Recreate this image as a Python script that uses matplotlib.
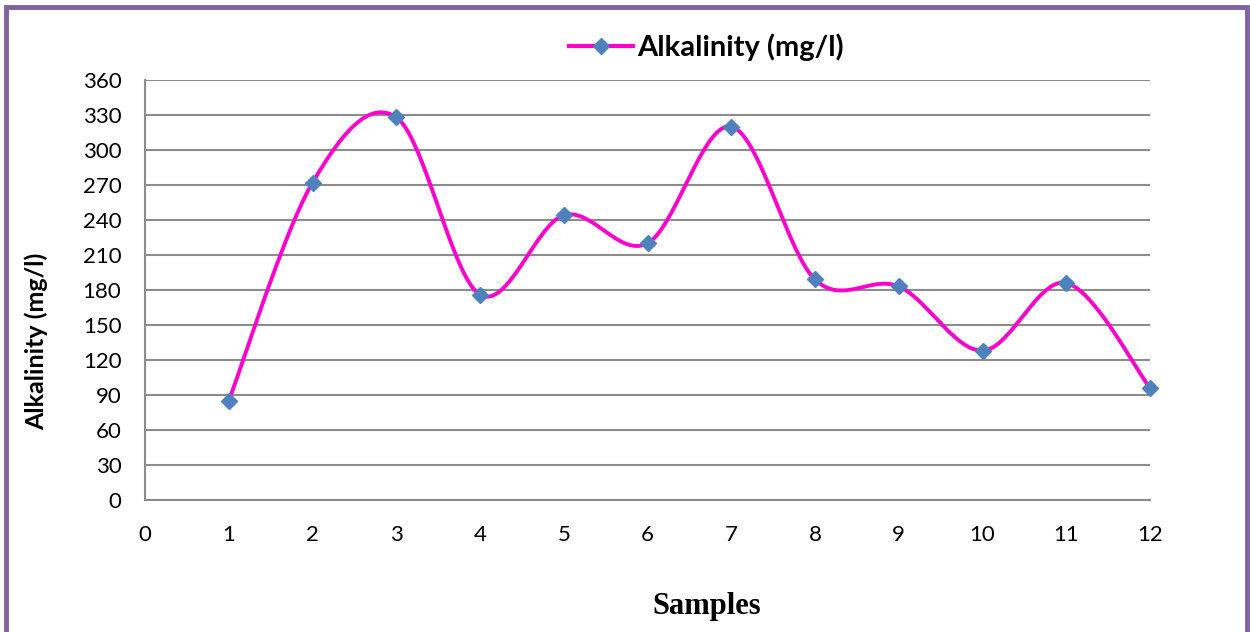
import numpy as np
import matplotlib.pyplot as plt
from matplotlib.lines import Line2D
from matplotlib.patches import Rectangle

samples = [1, 2, 3, 4, 5, 6, 7, 8, 9, 10, 11, 12]
alkalinity = [85, 272, 328, 176, 244, 220, 320, 189, 183, 128, 186, 96]
y_ticks = list(range(0, 361, 30))
x_ticks = list(range(0, 13))

LINE = "#FF00CC"
MARK = "#4F81BD"
GRID = "#8C8C8C"


def smooth(xs, ys, n=40):
    # Excel-style smoothed line: cubic bezier with control points at 1/6 of the neighbour span
    xs = np.asarray(xs, float)
    ys = np.asarray(ys, float)
    px = np.concatenate([[xs[0]], xs, [xs[-1]]])
    py = np.concatenate([[ys[0]], ys, [ys[-1]]])
    out_x, out_y = [], []
    t = np.linspace(0, 1, n)
    for i in range(1, len(px) - 2):
        p0 = np.array([px[i], py[i]])
        p3 = np.array([px[i + 1], py[i + 1]])
        c1 = p0 + (np.array([px[i + 1], py[i + 1]]) - np.array([px[i - 1], py[i - 1]])) / 6
        c2 = p3 - (np.array([px[i + 2], py[i + 2]]) - np.array([px[i], py[i]])) / 6
        b = ((1 - t) ** 3)[:, None] * p0 + (3 * (1 - t) ** 2 * t)[:, None] * c1 \
            + (3 * (1 - t) * t ** 2)[:, None] * c2 + (t ** 3)[:, None] * p3
        out_x.extend(b[:, 0])
        out_y.extend(b[:, 1])
    return out_x, out_y


plt.rcParams["font.family"] = ["Lato", "DejaVu Sans"]

fig = plt.figure(figsize=(12.5, 6.32), dpi=100)
ax = fig.add_axes([0.116, 0.2089, 0.804, 0.6646])

sx, sy = smooth(samples, alkalinity)
ax.plot(sx, sy, color=LINE, lw=2.8, zorder=3)
ax.plot(samples, alkalinity, ls="none", marker="D", ms=8.5, color=MARK, zorder=4,
        clip_on=False)

ax.set_xlim(0, 12)
ax.set_ylim(0, 360)
ax.set_xticks(x_ticks)
ax.set_yticks(y_ticks)
ax.tick_params(length=0, labelsize=16, colors="black")
ax.tick_params(axis="x", pad=18)
ax.tick_params(axis="y", pad=17)
ax.grid(axis="y", color=GRID, lw=1.5)
ax.set_axisbelow(True)
for s in ["top", "right"]:
    ax.spines[s].set_visible(False)
for s in ["left", "bottom"]:
    ax.spines[s].set_color(GRID)
    ax.spines[s].set_linewidth(1.5)

fig.text(0.0288, 0.4604, "Alkalinity (mg/l)", fontsize=18, fontweight="bold",
         rotation=90, ha="center", va="center")
fig.text(0.565, 0.04, "Samples", fontsize=22, fontweight="bold",
         family=["Liberation Serif", "DejaVu Serif"], ha="center", va="center")

handle = Line2D([], [], color=LINE, lw=3, marker="D", ms=8.5,
                markerfacecolor=MARK, markeredgecolor=MARK)
fig.legend([handle], ["Alkalinity (mg/l)"], loc="center", bbox_to_anchor=(0.565, 0.925),
           frameon=False, prop={"size": 21, "weight": "bold"}, handlelength=2.2,
           handletextpad=0.15)

fig.patches.append(Rectangle((0.0048, -0.02), 0.993, 1.0096, transform=fig.transFigure,
                             fill=False, edgecolor="#8064A2", lw=3.5))

fig.savefig("out.png", dpi=100)
